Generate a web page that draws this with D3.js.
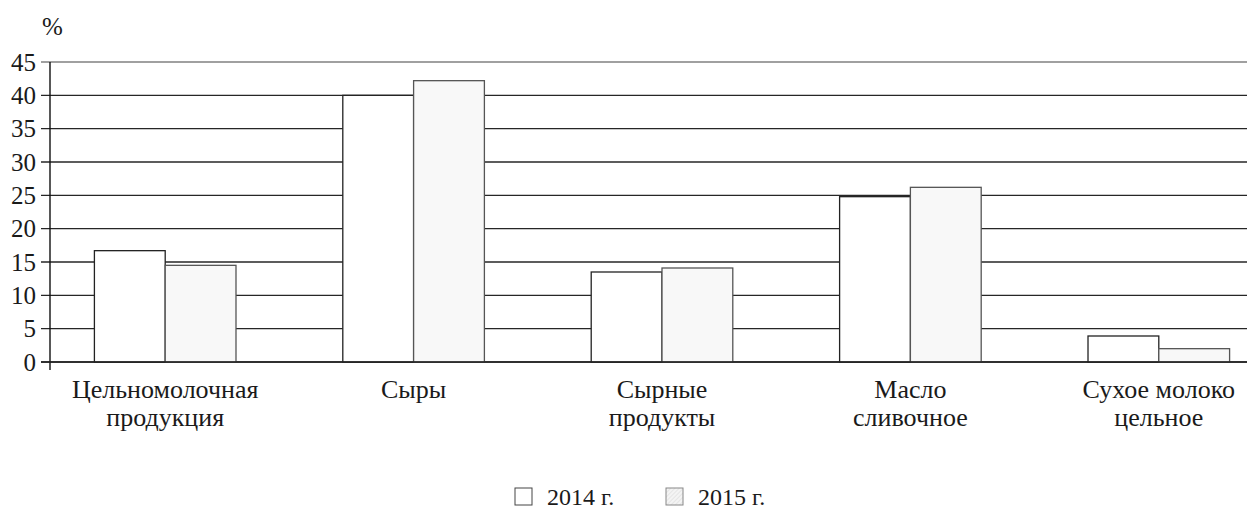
<!DOCTYPE html>
<html><head><meta charset="utf-8">
<script src="https://cdn.jsdelivr.net/npm/d3@7"></script>
<style>body{margin:0;background:#fff}svg{display:block}</style>
</head><body><svg id="c" width="1247" height="510"></svg>
<script>
const categories = [["Цельномолочная","продукция"],["Сыры"],["Сырные","продукты"],["Масло","сливочное"],["Сухое молоко","цельное"]];
const series = ["2014 г.","2015 г."];
const values2014 = [16.7, 40.0, 13.5, 24.8, 3.9];
const values2015 = [14.5, 42.2, 14.1, 26.2, 2.0];
const yTicks = [0,5,10,15,20,25,30,35,40,45];

const FONT = "Liberation Serif";
const TXT = "#1a1a1a";
const svg = d3.select("#c");
const defs = svg.append("defs");
const pat = defs.append("pattern").attr("id","hatch").attr("patternUnits","userSpaceOnUse").attr("width",3).attr("height",3).attr("patternTransform","rotate(45)");
pat.append("rect").attr("width",3).attr("height",3).attr("fill","#f4f4f4");
pat.append("line").attr("x1",0).attr("y1",0).attr("x2",0).attr("y2",3).attr("stroke","#d6d6d6").attr("stroke-width",1);

const keys = categories.map(c=>c.join(" "));
const x0 = d3.scaleBand().domain(keys).range([41,1283]).paddingInner(0.43).paddingOuter(0.215);
const x1 = d3.scaleBand().domain(series).range([0,x0.bandwidth()]);
const y = d3.scaleLinear().domain([0,45]).range([362,62]);

// gridlines
svg.append("g").selectAll("line").data(yTicks).join("line")
  .attr("x1",41).attr("x2",1247).attr("y1",d=>y(d)).attr("y2",d=>y(d))
  .attr("stroke",d=>d===45?"#808080":"#262626").attr("stroke-width",1.4);

const yAxis = d3.axisLeft(y).tickValues(yTicks).tickSize(0).tickPadding(0).tickFormat(d3.format("d"));
const ax = svg.append("g").attr("transform","translate(36,0)").call(yAxis);
ax.attr("font-family",FONT).attr("font-size",25);
ax.select(".domain").remove();
ax.selectAll("text").attr("fill",TXT).attr("dy","0.33em");
svg.append("line").attr("x1",50).attr("x2",50).attr("y1",y(45)).attr("y2",370).attr("stroke","#111").attr("stroke-width",1.4);

// bars
const data = keys.map((k,i)=>({k, vals:[{s:series[0],v:values2014[i]},{s:series[1],v:values2015[i]}]}));
const grp = svg.append("g").selectAll("g").data(data).join("g").attr("transform",d=>`translate(${x0(d.k)},0)`);
grp.selectAll("rect").data(d=>d.vals).join("rect")
  .attr("x",d=>x1(d.s)).attr("width",x1.bandwidth())
  .attr("y",d=>y(d.v)).attr("height",d=>y(0)-y(d.v))
  .attr("fill",(d,i)=>i===0?"#ffffff":"#f8f8f8")
  .attr("stroke",(d,i)=>i===0?"#222":"#555").attr("stroke-width",1.3);

svg.append("line").attr("x1",41).attr("x2",1247).attr("y1",y(0)).attr("y2",y(0)).attr("stroke","#222").attr("stroke-width",1.4);

// category labels
const lab = svg.append("g").attr("font-family",FONT).attr("font-size",26).attr("fill",TXT)
  .selectAll("text").data(categories).join("text")
  .attr("text-anchor","middle")
  .attr("x",(d,i)=>x0(keys[i])+x0.bandwidth()/2).attr("y",398);
lab.selectAll("tspan").data(d=>d).join("tspan")
  .attr("x",function(){return this.parentNode.getAttribute("x");})
  .attr("dy",(d,i)=>i===0?0:28).text(d=>d);

// unit
svg.append("text").attr("x",42).attr("y",35).attr("font-family",FONT).attr("font-size",25).attr("fill",TXT).text("%");

// legend
const leg = svg.append("g").attr("font-family",FONT).attr("font-size",24).attr("fill",TXT);
const lx = [515, 666];
series.forEach((s,i)=>{
  leg.append("rect").attr("x",lx[i]).attr("y",488).attr("width",17).attr("height",17)
    .attr("fill",i===0?"#fff":"url(#hatch)").attr("stroke",i===0?"#444":"#888").attr("stroke-width",1);
  leg.append("text").attr("x",lx[i]+32).attr("y",505).text(s);
});
</script></body></html>
